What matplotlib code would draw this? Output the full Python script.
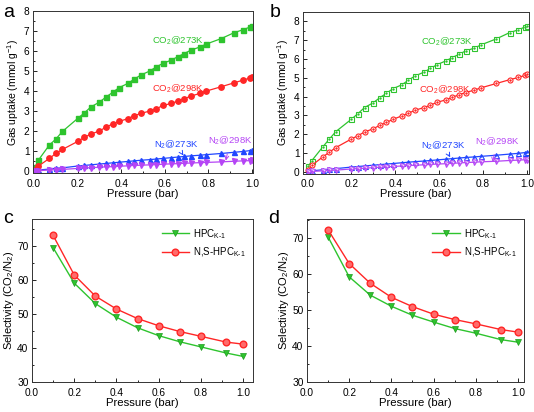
import numpy as np
import matplotlib
matplotlib.use('Agg')
import matplotlib.pyplot as plt
from matplotlib.ticker import MultipleLocator, FormatStrFormatter

plt.rcParams['font.family'] = ['Liberation Sans', 'DejaVu Sans']
plt.rcParams['mathtext.fontset'] = 'custom'
plt.rcParams['mathtext.rm'] = 'Liberation Sans'
plt.rcParams['mathtext.it'] = 'Liberation Sans'

# ------------------------------------------------------------
# Data
# ------------------------------------------------------------
p_iso = [0.005, 0.02, 0.07, 0.10, 0.13, 0.20, 0.23, 0.26, 0.30, 0.33, 0.36, 0.39, 0.43,
         0.46, 0.49, 0.53, 0.56, 0.59, 0.63, 0.66, 0.69, 0.72, 0.76, 0.79, 0.86, 0.92,
         0.96, 0.99, 1.0]

# panel a
a_co2_273 = [0.20, 0.55, 1.30, 1.60, 1.98, 2.63, 2.90, 3.20, 3.45, 3.70, 3.93, 4.17, 4.38,
             4.60, 4.80, 5.00, 5.20, 5.38, 5.55, 5.72, 5.88, 6.05, 6.20, 6.35, 6.63, 6.93,
             7.07, 7.20, 7.25]
a_co2_298 = [0.05, 0.25, 0.63, 0.88, 1.08, 1.48, 1.68, 1.85, 2.00, 2.20, 2.35, 2.48, 2.62,
             2.77, 2.88, 3.00, 3.10, 3.28, 3.38, 3.50, 3.62, 3.75, 3.88, 4.00, 4.22, 4.42,
             4.55, 4.65, 4.68]
a_n2_273 = [0.02, 0.05, 0.10, 0.14, 0.16, 0.25, 0.28, 0.31, 0.35, 0.38, 0.41, 0.44, 0.48,
            0.51, 0.54, 0.57, 0.60, 0.63, 0.67, 0.70, 0.73, 0.76, 0.79, 0.82, 0.88, 0.94,
            0.98, 1.02, 1.03]
a_n2_298 = [0.01, 0.02, 0.05, 0.07, 0.08, 0.13, 0.15, 0.17, 0.19, 0.21, 0.22, 0.24, 0.26,
            0.28, 0.29, 0.31, 0.32, 0.34, 0.36, 0.37, 0.39, 0.40, 0.42, 0.43, 0.46, 0.49,
            0.51, 0.52, 0.53]

# panel b
b_co2_273 = [0.30, 0.60, 1.33, 1.75, 2.15, 2.80, 3.10, 3.42, 3.68, 3.95, 4.18, 4.43, 4.63,
             4.88, 5.10, 5.30, 5.50, 5.70, 5.90, 6.08, 6.25, 6.43, 6.58, 6.75, 7.07, 7.40,
             7.55, 7.70, 7.75]
b_co2_298 = [0.10, 0.35, 0.80, 1.05, 1.30, 1.75, 1.93, 2.12, 2.30, 2.48, 2.63, 2.80, 2.98,
             3.12, 3.28, 3.42, 3.55, 3.70, 3.83, 3.97, 4.10, 4.22, 4.35, 4.47, 4.70, 4.90,
             5.02, 5.13, 5.20]
b_n2_273 = [0.03, 0.06, 0.12, 0.15, 0.18, 0.26, 0.29, 0.32, 0.36, 0.39, 0.42, 0.45, 0.49,
            0.52, 0.55, 0.58, 0.61, 0.64, 0.68, 0.71, 0.74, 0.77, 0.80, 0.83, 0.89, 0.95,
            0.99, 1.03, 1.05]
b_n2_298 = [0.01, 0.03, 0.06, 0.08, 0.10, 0.16, 0.18, 0.20, 0.23, 0.25, 0.27, 0.29, 0.32,
            0.34, 0.36, 0.38, 0.40, 0.42, 0.44, 0.46, 0.48, 0.50, 0.52, 0.54, 0.57, 0.61,
            0.63, 0.65, 0.66]

# panels c, d
p_sel = [0.1, 0.2, 0.3, 0.4, 0.5, 0.6, 0.7, 0.8, 0.92, 1.0]
c_hpc = [69.4, 59.0, 53.0, 49.0, 45.9, 43.6, 41.8, 40.3, 38.5, 37.5]
c_nshpc = [73.0, 61.4, 55.2, 51.4, 48.6, 46.5, 44.8, 43.4, 41.7, 41.1]
d_hpc = [70.4, 59.3, 54.2, 51.1, 48.6, 46.7, 44.9, 43.6, 41.8, 41.1]
d_nshpc = [72.4, 63.0, 57.5, 53.6, 51.0, 48.9, 47.4, 46.2, 44.6, 43.9]

GREEN = '#2ec42e'
RED = '#ff2626'
BLUE = '#2146ff'
PURPLE = '#b545f5'

# ------------------------------------------------------------
fig = plt.figure(figsize=(5.34, 4.12), dpi=100)
ax_a = fig.add_axes([0.0618, 0.580, 0.412, 0.393])
ax_b = fig.add_axes([0.5674, 0.578, 0.423, 0.393])
ax_c = fig.add_axes([0.0599, 0.0728, 0.414, 0.3956])
ax_d = fig.add_axes([0.5749, 0.0728, 0.406, 0.3956])


def style(ax, fs=7.3):
    ax.tick_params(which='both', direction='in', labelsize=fs, width=0.6)
    ax.tick_params(axis='y', which='both', pad=2.5)
    ax.tick_params(axis='x', which='both', pad=4)
    ax.tick_params(which='major', length=3)
    ax.tick_params(which='minor', length=1.6)
    for s in ax.spines.values():
        s.set_linewidth(0.7)
        s.set_color('#333333')


# panel a
ms = 3.6
ax_a.plot(p_iso, a_co2_273, '-s', color=GREEN, ms=ms, lw=0.9)
ax_a.plot(p_iso, a_co2_298, '-o', color=RED, ms=ms + 0.3, lw=0.9)
ax_a.plot(p_iso, a_n2_273, '-^', color=BLUE, ms=ms, lw=0.9)
ax_a.plot(p_iso, a_n2_298, '-v', color=PURPLE, ms=ms, lw=0.9)
ax_a.set_xlim(-0.005, 1.005)
ax_a.set_ylim(-0.1, 8)

# panel b (hollow markers with a centre dot)
for ys, mk, c in [(b_co2_273, 's', GREEN), (b_co2_298, 'o', RED),
                  (b_n2_273, '^', BLUE), (b_n2_298, 'v', PURPLE)]:
    ax_b.plot(p_iso, ys, '-' + mk, color=c, ms=ms, lw=0.9, mfc='white', mew=0.8)
    ax_b.plot(p_iso, ys, '.', color=c, ms=1.5)
ax_b.set_xlim(-0.02, 1.008)
ax_b.set_ylim(-0.1, 8.5)

for ax, labs in [(ax_a, [(0.66, 6.5), (0.66, 4.13), (0.655, 1.3), (0.90, 1.52)]),
                 (ax_b, [(0.635, 6.9), (0.626, 4.39), (0.62, 1.39), (0.863, 1.62)])]:
    ax.set_xlabel('Pressure (bar)', fontsize=8, labelpad=0)
    ax.set_ylabel('Gas uptake (mmol g$^{-1}$)', fontsize=7.5, labelpad=2)
    ax.xaxis.set_major_locator(MultipleLocator(0.2))
    ax.xaxis.set_minor_locator(MultipleLocator(0.1))
    ax.yaxis.set_major_locator(MultipleLocator(1))
    ax.yaxis.set_minor_locator(MultipleLocator(0.5))
    ax.xaxis.set_major_formatter(FormatStrFormatter('%.1f'))
    style(ax)
    ax.text(*labs[0], 'CO$_2$@273K', color=GREEN, fontsize=6.8, ha='center', va='center')
    ax.text(*labs[1], 'CO$_2$@298K', color=RED, fontsize=6.8, ha='center', va='center')
    ax.annotate('N$_2$@273K', xy=(labs[2][0] + 0.03, 0.78), xytext=labs[2],
                color=BLUE, fontsize=6.8, ha='center', va='center',
                arrowprops=dict(arrowstyle='->', color=BLUE, lw=0.7,
                                shrinkA=3, shrinkB=0))
    ax.annotate('N$_2$@298K', xy=(labs[3][0] - 0.02, 0.52), xytext=labs[3],
                color=PURPLE, fontsize=6.8, ha='center', va='center',
                arrowprops=dict(arrowstyle='->', color=PURPLE, lw=0.7,
                                shrinkA=3, shrinkB=0))

# panels c, d
for ax, hpc, ns, xmax, ymax in [(ax_c, c_hpc, c_nshpc, 1.047, 77.8),
                                (ax_d, d_hpc, d_nshpc, 1.028, 75.4)]:
    ax.plot(p_sel, hpc, '-v', color=GREEN, ms=4.8, lw=1.0, mfc=GREEN,
            mec='#1e9a1e', mew=0.5, label='HPC$_{\\mathregular{K\\text{-}1}}$')
    ax.plot(p_sel, ns, '-o', color=RED, ms=4.8, lw=1.0, mfc='#ff6b6b',
            mec=RED, mew=1.0, label='N,S-HPC$_{\\mathregular{K\\text{-}1}}$')
    ax.set_xlim(0, xmax)
    ax.set_ylim(30, ymax)
    ax.xaxis.set_major_locator(MultipleLocator(0.2))
    ax.xaxis.set_minor_locator(MultipleLocator(0.1))
    ax.yaxis.set_major_locator(MultipleLocator(10))
    ax.yaxis.set_minor_locator(MultipleLocator(5))
    ax.xaxis.set_major_formatter(FormatStrFormatter('%.1f'))
    ax.set_xlabel('Pressure (bar)', fontsize=8.2, labelpad=0)
    ax.set_ylabel('Selectivity (CO$_2$/N$_2$)', fontsize=8, labelpad=1)
    style(ax)
    ax.legend(loc='upper right', fontsize=7, frameon=False, handlelength=2.8,
              handletextpad=0.4, labelspacing=0.5, borderaxespad=0.4)

for x, y, s in [(0.005, 0.99, 'a'), (0.505, 0.99, 'b'),
                (0.005, 0.49, 'c'), (0.502, 0.49, 'd')]:
    fig.text(x, y, s, fontsize=14, ha='left', va='top')

fig.savefig('out.png', dpi=100)
